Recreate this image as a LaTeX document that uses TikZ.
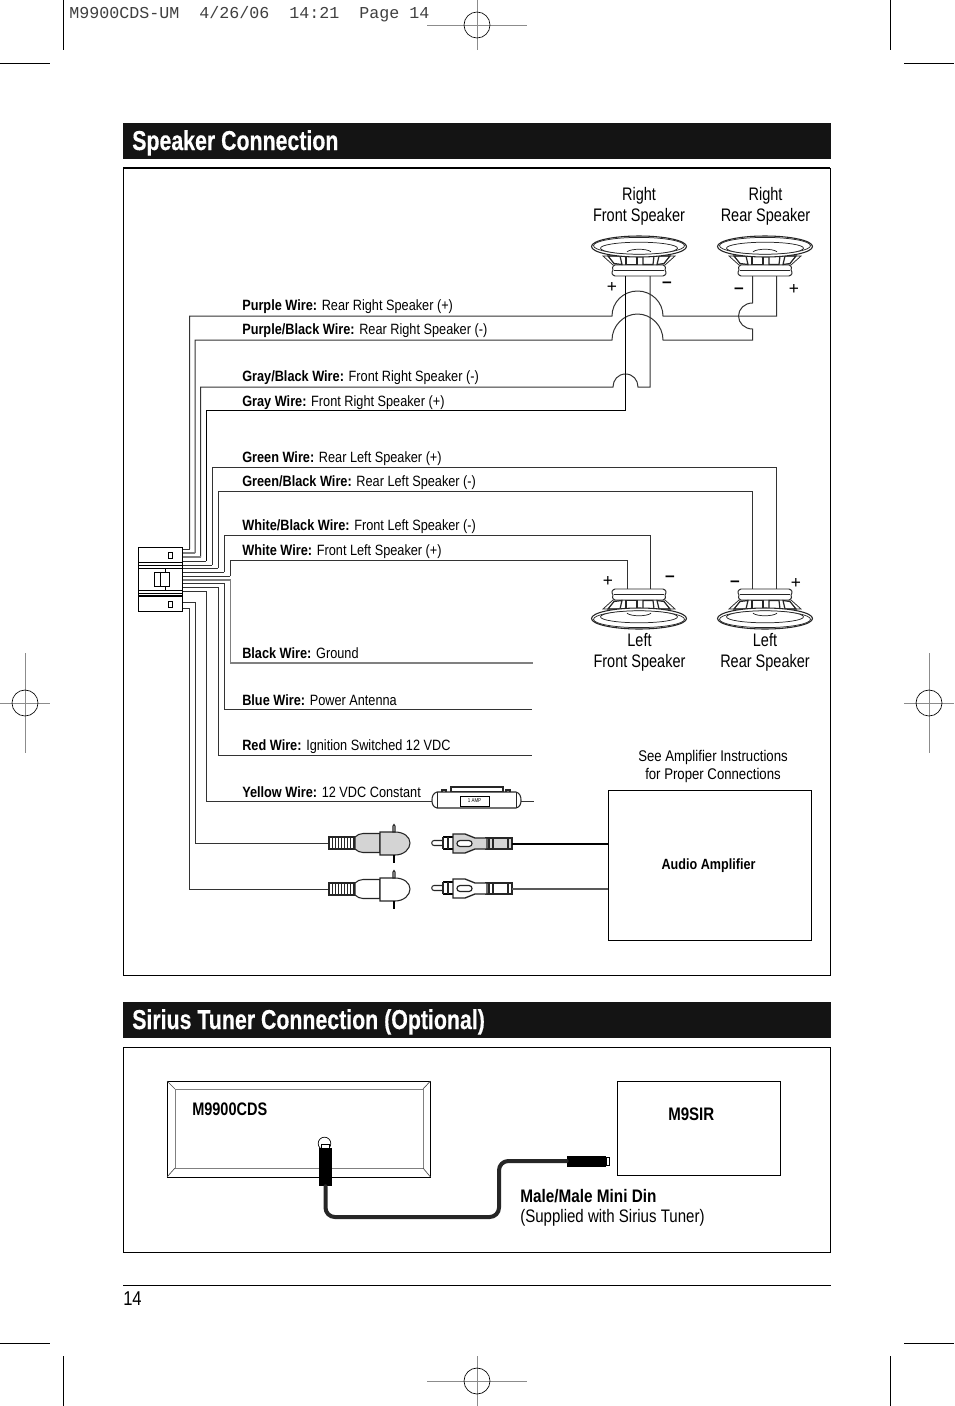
\documentclass[tikz,border=0pt]{standalone}
\usepackage{fontspec}
\setmainfont[FakeStretch=0.8]{Liberation Sans}
\newfontfamily\wirefont[FakeStretch=0.852]{Liberation Sans}
\newfontfamily\notefont[FakeStretch=0.83]{Liberation Sans}
\newfontfamily\plainfont{Liberation Sans}
\newfontfamily\hdrfont{Liberation Mono}
\newfontfamily\barfont[FakeStretch=0.78,FakeBold=0.4]{Liberation Sans Bold}
\newcommand{\labfs}{\wirefont\fontsize{11.2}{13}\selectfont}
\newcommand{\bigfs}{\fontsize{13.6}{15.5}\selectfont}
\newcommand{\notefs}{\notefont\fontsize{13.6}{15.5}\selectfont}
\tikzset{
  wire/.style={draw=black!80,line width=0.75pt},
  wiregray/.style={draw=black!50,line width=0.9pt},
  wirelabel/.style={anchor=base west,inner sep=0pt,font=\labfs},
  speakerlabel/.style={anchor=center,align=center,inner sep=0pt,font=\bigfs},
  polar/.style={anchor=center,inner sep=0pt,font=\plainfont\fontsize{13}{13}\selectfont},
  barbox/.style={fill=black!92,draw=none},
  bartext/.style={anchor=base west,inner sep=0pt,text=white,font=\barfont\fontsize{20.5}{22}\selectfont},
  crop/.style={draw=black,line width=0.6pt},
  regline/.style={draw=black!45,line width=0.6pt},
  spk/.style={draw=black!85,line width=0.55pt},
  cable/.style={draw=black!85,line width=3pt,line cap=round,line join=round,rounded corners=7pt},
}
\newcommand{\speaker}[3]{%
  \begin{scope}[shift={(#1,#2)},yscale=#3]
    \draw[spk,fill=white] (-36,20) -- (-26,11) -- (26,11) -- (36,20) -- cycle;
    \draw[spk,line width=0.7pt,fill=white] (-26,6) .. controls (-27,7) and (-27,10) .. (-24,11) -- (24,11) .. controls (27,10) and (27,7) .. (26,6) .. controls (28,3) and (27,1) .. (24,0) -- (-24,0) .. controls (-27,1) and (-28,3) .. (-26,6) -- cycle;
    \draw[spk] (-25,5.5) -- (25,5.5);
    \draw[spk,line width=0.9pt] (-13,11.5) -- (-2,11.5) -- (-2,20) -- (-13,20) -- cycle;
    \draw[spk,line width=0.9pt] (4,11.5) -- (14,11.5) -- (15,20) -- (4,20) -- cycle;
    \draw[spk,line width=0.9pt] (-17,11.5) -- (-25,12.5) -- (-31,20) -- (-19,20) -- cycle;
    \draw[spk,line width=0.9pt] (18,11.5) -- (25,12.5) -- (31,20) -- (20,20) -- cycle;
    \draw[spk,line width=0.8pt,fill=white] (0,29.5) ellipse [x radius=47.5,y radius=10.5];
    \draw[spk] (0,30.3) ellipse [x radius=45.5,y radius=8.3];
    \draw[spk,fill=white] (0,27.8) ellipse [x radius=38.5,y radius=6];
    \draw[spk] (-12,24.2) .. controls (-8,27.6) and (8,27.6) .. (12,24.2);
  \end{scope}%
}
\newcommand{\maleplug}[3]{%
  \begin{scope}[shift={(#1,#2)}]
    \draw[spk,line width=0.8pt,fill=white] (0,-6) -- (25,-6) -- (25,6) -- (0,6) -- cycle;
    \foreach \i in {3,6,...,24} {\draw[spk] (\i,-6) -- (\i,6);}
    \draw[spk,line width=0.8pt,fill=#3] (26,-6) .. controls (28,-8) and (31,-9.5) .. (34,-9.5) -- (51,-9.5) -- (51,9.5) -- (34,9.5) .. controls (31,9.5) and (28,8) .. (26,6) -- cycle;
    \draw[spk,line width=0.8pt,fill=#3] (51,-11) -- (66,-11) .. controls (75,-11) and (81,-6) .. (81,0) .. controls (81,6) and (75,12) .. (66,12) -- (51,12) -- cycle;
    \draw[spk,line width=0.8pt,fill=white] (64,-11) -- (64,-17) .. controls (64,-19) and (66,-19) .. (66,-17) -- (66,-11) -- cycle;
    \draw[black,line width=1.1pt] (65,12) -- (65,20);
  \end{scope}%
}
\newcommand{\femaleplug}[3]{%
  \begin{scope}[shift={(#1,#2)}]
    \draw[spk,line width=0.8pt,fill=white] (11,-2.5) -- (2,-2.5) .. controls (-1,-2.5) and (-1,2.5) .. (2,2.5) -- (11,2.5) -- cycle;
    \draw[black,line width=1.3pt] (11,-6) -- (21,-6) (11,6) -- (21,6);
    \draw[spk,line width=0.8pt] (11,-6) -- (11,6) (16,-6) -- (16,6);
    \draw[spk,line width=0.8pt,fill=#3] (54,-5) -- (80,-5) -- (80,6) -- (54,6) -- cycle;
    \draw[spk,line width=0.8pt] (57,-5) -- (57,6) (61,-5) -- (61,6) (76,-5) -- (76,6);
    \draw[spk,line width=1pt,fill=#3] (21,-9) -- (33,-9) -- (43,-5) -- (55,-5) -- (55,6) -- (43,6) -- (33,10) -- (21,10) -- cycle;
    \draw[spk,line width=0.9pt,fill=white] (28,-2.5) -- (37,-2.5) .. controls (41,-2.5) and (41,3.5) .. (37,3.5) -- (28,3.5) .. controls (24,3.5) and (24,-2.5) .. (28,-2.5) -- cycle;
  \end{scope}%
}
\begin{document}
\begin{tikzpicture}[x=0.75pt,y=-0.75pt]
\useasboundingbox (0,0) rectangle (954,1406);
\fill[white] (0,0) rectangle (954,1406);
% crop marks
\draw[crop] (63,0) -- (63,50) (890,0) -- (890,50) (0,63) -- (50,63) (904,63) -- (954,63);
\draw[crop] (63,1356) -- (63,1406) (890,1356) -- (890,1406) (0,1343) -- (50,1343) (904,1343) -- (954,1343);
\draw[regline] (427,25) -- (527,25) (477,0) -- (477,50);
\draw[black,line width=0.5pt] (477,25) circle [radius=13];
\draw[regline] (427,1381) -- (527,1381) (477,1356) -- (477,1406);
\draw[black,line width=0.5pt] (477,1381) circle [radius=13];
\draw[regline] (0,703) -- (50,703) (25,653) -- (25,753);
\draw[black,line width=0.5pt] (25,703) circle [radius=13];
\draw[regline] (904,703) -- (954,703) (929,653) -- (929,753);
\draw[black,line width=0.5pt] (929,703) circle [radius=13];
\node[anchor=base west,inner sep=0pt,text=black!75,font=\hdrfont\fontsize{12.5}{14}\selectfont] (slug) at (69,18) {M9900CDS-UM~~4/26/06~~14:21~~Page~14};

% header bars
\path[barbox] (123,123) rectangle (831,159);
\node[bartext] (title1) at (132,150) {Speaker Connection};
\path[barbox] (123,1002) rectangle (831,1038);
\node[bartext] (title2) at (132,1029) {Sirius Tuner Connection (Optional)};

% frames
\draw[black,line width=0.55pt] (123,168) rectangle (830.3,975.3);
\draw[black,line width=1.1pt] (123,168) -- (830.3,168);
\draw[black,line width=0.55pt] (123,1047) rectangle (830.3,1252.3);

% footer
\draw[black,line width=0.55pt] (123,1285) -- (831,1285);
\node[anchor=base west,inner sep=0pt,font=\notefont\fontsize{15}{16}\selectfont] (pageno) at (123,1305) {14};

% speakers
\speaker{639}{276}{-1}
\speaker{765}{276}{-1}
\speaker{639}{589}{1}
\speaker{765}{589}{1}

% right side wires
\draw[wire] (189.5,549) -- (189.5,316) -- (612,316) .. controls (612,302) and (623.5,291) .. (637.5,291) .. controls (651.5,291) and (663,302) .. (663,316) -- (776.5,316) -- (776.5,276);
\draw[wire] (195,553) -- (195,340) -- (612,340) .. controls (612,326) and (623.5,314) .. (637.5,314) .. controls (651.5,314) and (663,326) .. (663,340) -- (752.5,340) -- (752.5,329) .. controls (744.5,329) and (738.5,323) .. (738.5,316) .. controls (738.5,309) and (744.5,303) .. (752.5,303) -- (752.5,276);
\draw[wire] (200.5,557) -- (200.5,387) -- (613,387) .. controls (613,380) and (618,374) .. (625.5,374) .. controls (633,374) and (638,380) .. (638,387) -- (650,387) -- (650,276);
\draw[wire,draw=black] (206,561) -- (206,410) -- (625.5,410) -- (625.5,276);
% left side wires
\draw[wire] (212,565) -- (212,467) -- (776.5,467) -- (776.5,589);
\draw[wire] (218,568) -- (218,491) -- (752.5,491) -- (752.5,589);
\draw[wire] (224,572) -- (224,535) -- (650,535) -- (650,589);
\draw[wire] (230,576) -- (230,560) -- (627,560) -- (627,589);
% lower wires
\draw[wiregray] (230.5,580) -- (230.5,663) -- (533,663);
\draw[wire] (224.5,583) -- (224.5,709) -- (532,709);
\draw[wire] (218.5,587) -- (218.5,755) -- (532,755);
\draw[wire] (206,591) -- (206,801) -- (432,801);
\draw[wire] (521,801) -- (534,801);
\draw[wire] (195.5,602) -- (195.5,843) -- (330,843);
\draw[wire] (189.5,608) -- (189.5,889) -- (330,889);
% connector stubs
\draw[wire] (183,549) -- (189.5,549);
\draw[wiregray] (183,553) -- (195,553);
\draw[wiregray] (183,557) -- (200.5,557);
\draw[wire] (183,561) -- (206,561) (183,565) -- (212,565) (183,568) -- (218,568) (183,572) -- (224,572) (183,576) -- (230,576);
\draw[wiregray] (183,580) -- (230.5,580);
\draw[wire] (183,583) -- (224.5,583) (183,587) -- (218.5,587) (183,591) -- (206,591) (183,602) -- (195.5,602) (183,608) -- (189.5,608);

% connector body
\node[draw=black,line width=0.7pt,fill=white,minimum width=33.5pt,minimum height=48pt,inner sep=0pt] (conn) at (160.5,579) {};
\draw[black,line width=0.6pt] (138,562) -- (183,562) (138,565) -- (183,565) (138,568) -- (183,568);
\draw[black,line width=0.6pt] (138,590) -- (183,590) (138,593) -- (183,593);
\draw[black,line width=1.3pt] (138,596) -- (183,596);
\draw[black,line width=0.6pt] (168,552) rectangle (172,558);
\draw[black,line width=0.6pt] (168,601) rectangle (172,607);
\draw[black,line width=0.6pt] (154,572) rectangle (169,586);
\draw[black,line width=0.6pt] (160,572) -- (160,586);
\draw[black,line width=0.6pt] (165,568) -- (165,572) (165,586) -- (165,590);

% labels
\node[wirelabel] (l1) at (242,310) {\textbf{Purple Wire:} Rear Right Speaker (+)};
\node[wirelabel] (l2) at (242,334) {\textbf{Purple/Black Wire:} Rear Right Speaker (-)};
\node[wirelabel] (l3) at (242,381) {\textbf{Gray/Black Wire:} Front Right Speaker (-)};
\node[wirelabel] (l4) at (242,406) {\textbf{Gray Wire:} Front Right Speaker (+)};
\node[wirelabel] (l5) at (242,462) {\textbf{Green Wire:} Rear Left Speaker (+)};
\node[wirelabel] (l6) at (242,486) {\textbf{Green/Black Wire:} Rear Left Speaker (-)};
\node[wirelabel] (l7) at (242,530) {\textbf{White/Black Wire:} Front Left Speaker (-)};
\node[wirelabel] (l8) at (242,555) {\textbf{White Wire:} Front Left Speaker (+)};
\node[wirelabel] (l9) at (242,658) {\textbf{Black Wire:} Ground};
\node[wirelabel] (l10) at (242,705) {\textbf{Blue Wire:} Power Antenna};
\node[wirelabel] (l11) at (242,750) {\textbf{Red Wire:} Ignition Switched 12 VDC};
\node[wirelabel] (l12) at (242,797) {\textbf{Yellow Wire:} 12 VDC Constant};

\node[speakerlabel] (s1) at (639,206) {Right\\Front Speaker};
\node[speakerlabel] (s2) at (765.5,206) {Right\\Rear Speaker};
\node[speakerlabel] (s3) at (639.5,652.5) {Left\\Front Speaker};
\node[speakerlabel] (s4) at (765,652.5) {Left\\Rear Speaker};
\node[polar] (p1) at (612,287) {+};
\node[polar] (p2) at (667,285) {\textbf{–}};
\node[polar] (p3) at (739,291) {\textbf{–}};
\node[polar] (p4) at (794,289) {+};
\node[polar] (p5) at (608,581) {+};
\node[polar] (p6) at (670,579) {\textbf{–}};
\node[polar] (p7) at (735,584) {\textbf{–}};
\node[polar] (p8) at (796,583) {+};

% fuse
\draw[spk,line width=0.8pt,fill=white] (451,792) -- (451,787) -- (503,787) -- (503,792) -- cycle;
\draw[spk,line width=0.8pt] (442,792) -- (442,790) -- (446,790) -- (446,792) (506,792) -- (506,790) -- (510,790) -- (510,792);
\draw[spk,line width=0.8pt,fill=white] (437,792) -- (516,792) .. controls (520,793) and (521,797) .. (521,800) .. controls (521,804) and (520,807) .. (516,808) -- (437,808) .. controls (433,807) and (432,804) .. (432,800) .. controls (432,797) and (433,793) .. (437,792) -- cycle;
\draw[spk] (437,792) -- (437,808) (516,792) -- (516,808);
\node[draw=black,line width=0.5pt,fill=white,minimum width=21.75pt,minimum height=7.5pt,inner sep=0pt,font=\fontsize{4.2}{5}\selectfont] (fuse) at (474.5,801) {1 AMP};

% amplifier
\node[draw=black,line width=0.55pt,fill=white,minimum width=152.25pt,minimum height=112.5pt,inner sep=0pt] (amp) at (709.5,865) {};
\node[inner sep=0pt,font=\wirefont\fontsize{11.1}{13}\selectfont\bfseries] (ampt) at (708.5,866) {Audio Amplifier};
\node[anchor=center,align=center,inner sep=0pt,font=\wirefont\fontsize{11.6}{13}\selectfont,text depth=0pt] (ampn) at (713,765) {See Amplifier Instructions\\[0pt]for Proper Connections};

% plugs
\maleplug{329}{843}{black!17}
\maleplug{329}{889}{white}
\femaleplug{432}{843}{black!17}
\femaleplug{432}{888}{white}
\coordinate (j1) at (512,844);
\coordinate (j2) at (512,889);
\draw[black,line width=1.2pt] (j1) -- (j1 -| amp.west);
\draw[black!65,line width=1.2pt] (j2) -- (j2 -| amp.west);

% Sirius section
\node[draw=black,line width=0.7pt,fill=white,minimum width=197.5pt,minimum height=72pt,inner sep=0pt] (unit) at (298.7,1129) {};
\draw[black!50,line width=0.55pt] (175,1089) rectangle (423,1168);
\draw[black!70,line width=0.5pt] (167,1081) -- (175,1089) (430.5,1081) -- (423,1089) (167,1177) -- (175,1168) (430.5,1177) -- (423,1168);
\node[anchor=base west,inner sep=0pt,font=\bigfs\bfseries] (unitt) at (192,1115) {M9900CDS};
\node[draw=black,line width=0.55pt,fill=white,minimum width=122.5pt,minimum height=70.5pt,inner sep=0pt] (tuner) at (698.7,1128.5) {};
\node[anchor=base west,inner sep=0pt,font=\notefs\bfseries] (tunert) at (668,1120.5) {M9SIR};
\node[draw=black,line width=0.5pt,circle,minimum size=9.5pt,inner sep=0pt] (jack) at (324.5,1143.5) {};
\draw[black,line width=0.5pt,fill=white] (321,1144) rectangle (329,1149);
\node[fill=black,minimum width=9.75pt,minimum height=28.5pt,inner sep=0pt] (p1b) at (325.5,1167) {};
\node[fill=black,minimum width=29.25pt,minimum height=8.25pt,inner sep=0pt] (p2b) at (586.5,1161) {};
\draw[black,line width=0.5pt,fill=white] (606,1157) rectangle (609,1165);
\draw[cable] (p1b.south) -- (325.5,1217) -- (499,1217) -- (499,1161) -- (p2b.west);
\node[anchor=base west,inner sep=0pt,font=\notefont\fontsize{13.6}{15.5}\selectfont\bfseries\addfontfeature{FakeStretch=0.845}] (m1) at (520,1202) {Male/Male Mini Din};
\node[anchor=base west,inner sep=0pt,font=\notefs] (m2) at (520,1222) {(Supplied with Sirius Tuner)};
\end{tikzpicture}
\end{document}
